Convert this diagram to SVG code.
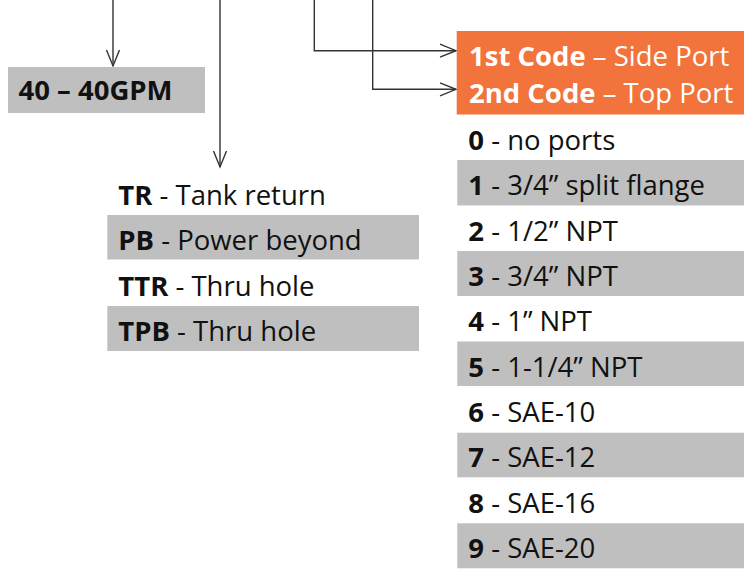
<svg xmlns="http://www.w3.org/2000/svg" width="744" height="570" viewBox="0 0 744 570">
<style>
text{font-family:"Open Sans","Noto Sans","Liberation Sans",sans-serif;font-size:27.5px;fill:#111}
.b{font-weight:bold}
.g{fill:#bfbfbf}
.hd text{fill:#fff}
.c{fill:none;stroke:#333;stroke-width:1.4}
</style>
<defs>
<marker id="ah" markerUnits="userSpaceOnUse" markerWidth="24" markerHeight="20" viewBox="-20 -10 24 20" refX="0" refY="0" orient="auto">
<path d="M-16,-6.5 L0,0 L-16,6.5" fill="none" stroke="#333" stroke-width="1.4"/>
</marker>
</defs>
<rect width="744" height="570" fill="#fff"/>
<g id="connectors">
<path class="c" d="M113,0 V66" marker-end="url(#ah)"/>
<path class="c" d="M220,0 V167" marker-end="url(#ah)"/>
<path class="c" d="M314.3,0 V50.7 H456" marker-end="url(#ah)"/>
<path class="c" d="M372.7,0 V89.3 H456" marker-end="url(#ah)"/>
</g>
<g id="gpm">
<rect class="g" x="8" y="67" width="197" height="46"/>
<text class="b" x="18.5" y="99.5">40 – 40GPM</text>
</g>
<g id="port-types">
<rect class="g" x="107.3" y="215" width="311.7" height="44.5"/>
<rect class="g" x="107.3" y="306" width="311.7" height="45"/>
<text x="118.3" y="204.5"><tspan class="b">TR</tspan> - Tank return</text>
<text x="118.3" y="250"><tspan class="b">PB</tspan> - Power beyond</text>
<text x="118.3" y="295.5"><tspan class="b">TTR</tspan> - Thru hole</text>
<text x="118.3" y="341"><tspan class="b">TPB</tspan> - Thru hole</text>
</g>
<g id="port-header" class="hd">
<rect x="456.7" y="31" width="287.3" height="83.5" fill="#f2733b"/>
<text x="469" y="65.5"><tspan class="b">1st Code</tspan> – Side Port</text>
<text x="469" y="102.5"><tspan class="b">2nd Code</tspan> – Top Port</text>
</g>
<g id="port-codes">
<rect class="g" x="457.3" y="160" width="286.7" height="45.5"/>
<rect class="g" x="457.3" y="251" width="286.7" height="45"/>
<rect class="g" x="457.3" y="341.5" width="286.7" height="44.5"/>
<rect class="g" x="457.3" y="432.7" width="286.7" height="44.6"/>
<rect class="g" x="457.3" y="523.3" width="286.7" height="45"/>
<text x="468.3" y="149.5"><tspan class="b">0</tspan> - no ports</text>
<text x="468.3" y="195"><tspan class="b">1</tspan> - 3/4” split flange</text>
<text x="468.3" y="240.5"><tspan class="b">2</tspan> - 1/2” NPT</text>
<text x="468.3" y="285.8"><tspan class="b">3</tspan> - 3/4” NPT</text>
<text x="468.3" y="331"><tspan class="b">4</tspan> - 1” NPT</text>
<text x="468.3" y="376.5"><tspan class="b">5</tspan> - 1-1/4” NPT</text>
<text x="468.3" y="422"><tspan class="b">6</tspan> - SAE-10</text>
<text x="468.3" y="467.3"><tspan class="b">7</tspan> - SAE-12</text>
<text x="468.3" y="512.7"><tspan class="b">8</tspan> - SAE-16</text>
<text x="468.3" y="558"><tspan class="b">9</tspan> - SAE-20</text>
</g>
</svg>
